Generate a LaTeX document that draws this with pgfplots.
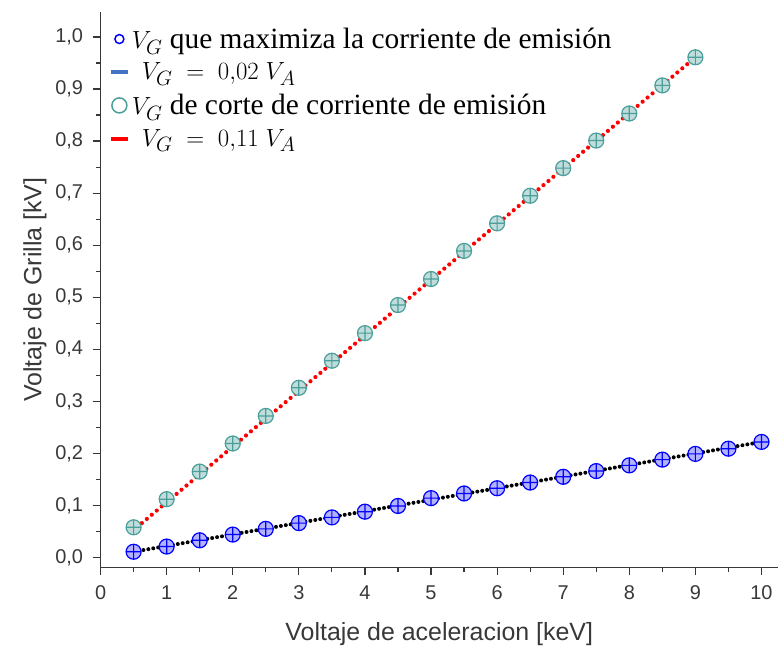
\documentclass[border=0pt]{standalone}
\usepackage{pgfplots}
\pgfplotsset{compat=1.18}
\usepackage{fontspec}
\setmainfont{Liberation Sans}
\newfontfamily\legfont{Liberation Serif}
\definecolor{labgray}{HTML}{383838}
\definecolor{tealpt}{HTML}{4A9F9A}
\definecolor{fitblue}{HTML}{4472C4}

\begin{document}
\begin{tikzpicture}
\begin{axis}[
    name=ax,
    scale only axis,
    width=677bp, height=555bp,
    xmin=0, xmax=10.25,
    ymin=-0.019, ymax=1.048,
    axis lines*=left,
    axis line style={-, labgray, line width=1.4pt},
    xtick={0,1,...,10},
    minor xtick={0.5,1.5,...,9.5},
    ytick={0,0.1,...,1.0},
    minor ytick={0.05,0.15,...,0.95},
    tick style={labgray, line width=1.2pt},
    major tick length=8bp, minor tick length=5bp,
    tick align=outside,
    tick label style={font=\fontsize{20}{22}\selectfont, text=labgray},
    xticklabel style={yshift=-7bp},
    yticklabel style={xshift=-6bp, /pgf/number format/.cd, use comma, fixed, fixed zerofill, precision=1},
    /pgf/number format/assume math mode=true,
    xlabel={Voltaje de aceleracion [keV]},
    ylabel={Voltaje de Grilla [kV]},
    label style={font=\fontsize{25}{28}\selectfont, text=labgray},
    xlabel style={yshift=-16bp},
    ylabel style={yshift=2bp},
    clip=false,
    legend style={draw=none, fill=none, at={(0.012,0.975)}, anchor=north west,
        font=\legfont\fontsize{29.5}{33}\selectfont, row sep=9bp,
        inner sep=0pt},
    legend cell align=left,
]
% fit lines
\addplot[forget plot, black, line width=4pt, line cap=round, dash pattern=on 0pt off 5pt]
    coordinates {(0.5,0.011) (10,0.222)};
\addplot[forget plot, red, line width=4.2pt, line cap=round, dash pattern=on 0pt off 6.5pt]
    coordinates {(0.55,0.058) (9,0.961)};
% V_G que maximiza
\addplot[forget plot, only marks, mark=oplus*, mark size=7.5bp,
    mark options={draw=blue, fill=blue!30, line width=1.2pt}]
    coordinates {
    (0.5,0.011) (1,0.021) (1.5,0.033) (2,0.044) (2.5,0.055)
    (3,0.066) (3.5,0.077) (4,0.088) (4.5,0.099) (5,0.114)
    (5.5,0.123) (6,0.133) (6.5,0.144) (7,0.155) (7.5,0.166)
    (8,0.177) (8.5,0.188) (9,0.199) (9.5,0.209) (10,0.222)};
% V_G de corte
\addplot[forget plot, only marks, mark=oplus*, mark size=7.5bp,
    mark options={draw=tealpt, fill=tealpt!35, line width=1.2pt}]
    coordinates {
    (0.5,0.058) (1,0.112) (1.5,0.165) (2,0.219) (2.5,0.272)
    (3,0.326) (3.5,0.378) (4,0.431) (4.5,0.485) (5,0.535)
    (5.5,0.589) (6,0.642) (6.5,0.695) (7,0.748) (7.5,0.801)
    (8,0.853) (8.5,0.907) (9,0.961)};
% legend
\addlegendimage{only marks, mark=o, mark size=4.5bp, mark options={draw=blue, line width=1.5pt}}
\addlegendentry{$V_G$ que maximiza la corriente de emisión}
\addlegendimage{fitblue, line width=4pt}
\addlegendentry{\hspace{10bp}$V_G \;=\; 0{,}02\;V_A$}
\addlegendimage{only marks, mark=o, mark size=7.5bp, mark options={draw=tealpt, line width=1.5pt}}
\addlegendentry{$V_G$ de corte de corriente de emisión}
\addlegendimage{red, line width=4pt}
\addlegendentry{\hspace{10bp}$V_G \;=\; 0{,}11\;V_A$}
\end{axis}
\pgfresetboundingbox
\path ([xshift=-100.5bp,yshift=-81bp]ax.south west) rectangle ([xshift=1bp,yshift=12bp]ax.north east);
\end{tikzpicture}
\end{document}
